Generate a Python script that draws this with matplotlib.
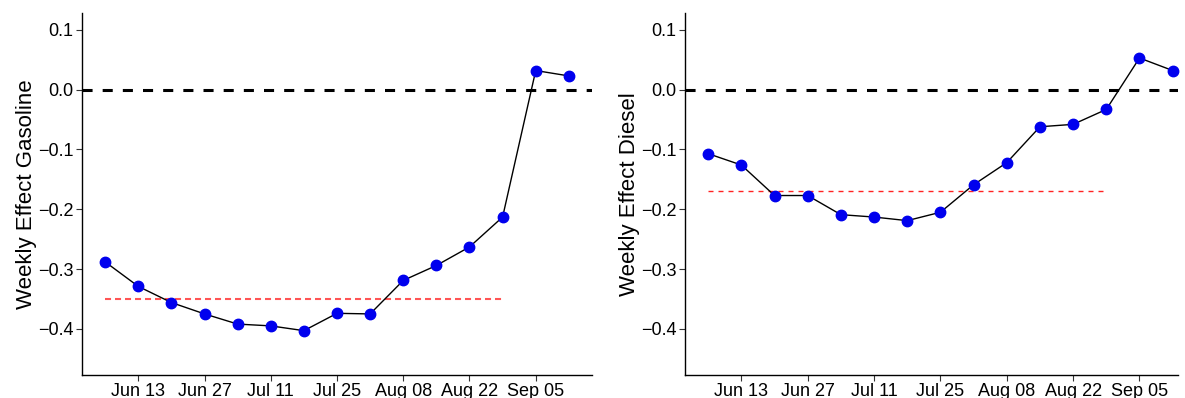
import numpy as np
import pandas as pd
import matplotlib
matplotlib.use("Agg")
import matplotlib.pyplot as plt
import matplotlib.dates as mdates

plt.rcParams['font.family'] = ['Liberation Sans', 'DejaVu Sans']

weeks = pd.date_range("2022-06-06", periods=15, freq="7D")
gasoline = [-0.288, -0.329, -0.356, -0.375, -0.392, -0.395, -0.403, -0.374,
            -0.375, -0.319, -0.294, -0.263, -0.213, 0.032, 0.023]
diesel = [-0.107, -0.126, -0.177, -0.177, -0.209, -0.213, -0.219, -0.205,
          -0.159, -0.122, -0.062, -0.058, -0.033, 0.053, 0.032]
gas_mean = -0.350
diesel_mean = -0.170
n_mean = 13  # mean line spans the first 13 weeks
tick_dates = pd.date_range("2022-06-13", "2022-09-05", freq="14D")
yticks = [0.1, 0.0, -0.1, -0.2, -0.3, -0.4]

fig = plt.figure(figsize=(11.85, 3.98), dpi=100)
ax1 = fig.add_axes([0.0692, 0.058, 0.4304, 0.909])
ax2 = fig.add_axes([0.578, 0.058, 0.416, 0.909])

pad = pd.Timedelta(days=4.9)
panels = [
    (ax1, gasoline, gas_mean, "Weekly Effect Gasoline", "#ff5555", 1.5, (0, (2.9, 1.9)),
     pd.Timedelta(days=4.9)),
    (ax2, diesel, diesel_mean, "Weekly Effect Diesel", "#ff2222", 1.0, (0, (3.6, 3.6)),
     pd.Timedelta(days=1.1)),
]
for ax, vals, m, label, mcol, mlw, mdash, rpad in panels:
    ax.axhline(0, color="black", linestyle=(0, (3.3, 3.3)), linewidth=2.2, zorder=1)
    ax.plot(weeks[:n_mean], [m] * n_mean, color=mcol, linestyle=mdash,
            linewidth=mlw, zorder=1)
    ax.plot(weeks, vals, color="black", linewidth=1.0, zorder=2)
    ax.plot(weeks, vals, "o", color="#0000ee", markersize=7.5, zorder=3, clip_on=False)
    ax.set_xlim(weeks[0] - pad, weeks[-1] + rpad)
    ax.set_ylim(-0.477, 0.128)
    ax.set_yticks(yticks)
    ax.set_yticklabels([f"{v:.1f}".replace("-", "\u2212") for v in yticks])
    ax.set_xticks(tick_dates)
    ax.xaxis.set_major_formatter(mdates.DateFormatter("%b %d"))
    ax.set_ylabel(label, fontsize=16, labelpad=1)
    ax.tick_params(axis="both", labelsize=13, length=4, width=0.8,
                   color="#333333", labelcolor="black", pad=2)
    for side in ["top", "right"]:
        ax.spines[side].set_visible(False)
    for side in ["left", "bottom"]:
        ax.spines[side].set_linewidth(1.0)

fig.savefig("out.png", dpi=100)
